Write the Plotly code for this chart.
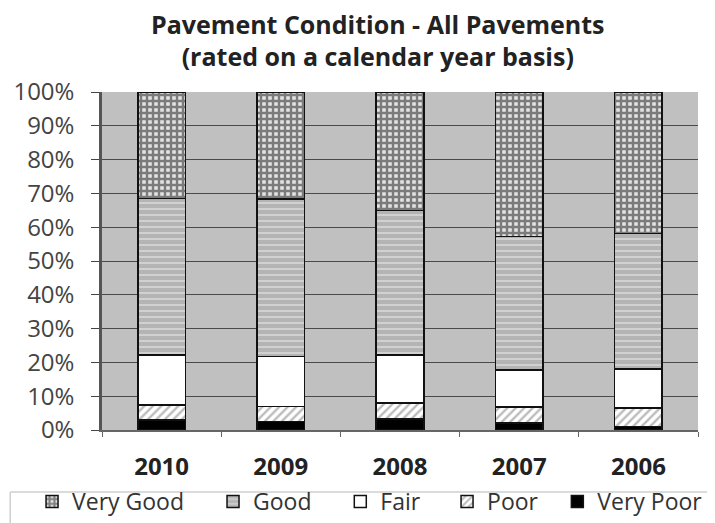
import plotly.graph_objects as go

years = ["2010", "2009", "2008", "2007", "2006"]
very_poor = [3.0, 2.5, 3.2, 2.0, 1.0]
poor = [4.4, 4.5, 4.8, 4.8, 5.5]
fair = [14.8, 14.7, 14.2, 11.0, 11.5]
good = [46.3, 46.6, 42.8, 39.4, 40.2]
very_good = [31.5, 31.7, 35.0, 42.8, 41.8]

font = "Open Sans"
fig = go.Figure()
line = dict(color="#111", width=1.5)
fig.add_bar(x=years, y=very_poor, name="Very Poor", legend="legend5", showlegend=True,
            marker=dict(color="black", line=line))
fig.add_bar(x=years, y=poor, name="Poor", legend="legend4", showlegend=True,
            marker=dict(color="white", line=line,
                        pattern=dict(shape="/", fgcolor="#777", bgcolor="white", size=6, solidity=0.4)))
fig.add_bar(x=years, y=fair, name="Fair", legend="legend3", showlegend=True,
            marker=dict(color="white", line=line))
fig.add_bar(x=years, y=good, name="Good", legend="legend2", showlegend=True,
            marker=dict(color="#bcbcbc", line=line,
                        pattern=dict(shape="-", fgcolor="#f4f4f4", bgcolor="#b4b4b4", size=6, solidity=0.3)))
fig.add_bar(x=years, y=very_good, name="Very Good", legend="legend", showlegend=True,
            marker=dict(color="#555", line=line,
                        pattern=dict(shape="+", fgcolor="#111", bgcolor="#e4e4e4", size=6, solidity=0.65)))

legend_style = dict(orientation="h", xref="container", xanchor="left",
                    yref="container", y=-0.014, yanchor="bottom",
                    font=dict(family=font, size=23, color="#333"),
                    itemwidth=30, bgcolor="rgba(0,0,0,0)")

# page body has an 8px default margin, so the figure is sized 707x515
fig.update_layout(
    barmode="stack",
    bargap=0.6,
    showlegend=True,
    width=707, height=515,
    margin=dict(l=94, r=17, t=84, b=93, autoexpand=False),
    paper_bgcolor="white",
    plot_bgcolor="#c0c0c0",
    title=dict(text="<b>Pavement Condition - All Pavements<br>(rated on a calendar year basis)</b>",
               x=0.523, xanchor="center", yref="container", y=0.95, yanchor="top",
               font=dict(family=font, size=25, color="#222")),
    legend=dict(legend_style, x=0.034),
    legend2=dict(legend_style, x=0.290),
    legend3=dict(legend_style, x=0.470),
    legend4=dict(legend_style, x=0.621),
    legend5=dict(legend_style, x=0.777),
    font=dict(family=font),
    shapes=[
        dict(type="line", xref="paper", yref="paper", x0=-0.154, x1=1.05, y0=-0.1834, y1=-0.1834,
             line=dict(color="#cfcfcf", width=1.5)),
        dict(type="line", xref="paper", yref="paper", x0=-0.154, x1=-0.154, y0=-0.1834, y1=-0.3,
             line=dict(color="#cfcfcf", width=1.5)),
    ],
)
fig.update_yaxes(range=[0, 100], tickvals=list(range(0, 101, 10)),
                 ticktext=[f"{v}%" for v in range(0, 101, 10)],
                 showgrid=True, gridcolor="#4a4a4a", gridwidth=1.2,
                 showline=True, linecolor="#555", linewidth=2.5,
                 ticks="outside", ticklen=8, tickcolor="#444", tickwidth=1.2,
                 ticklabelstandoff=12, automargin=False,
                 tickfont=dict(family=font, size=24, color="#444"), zeroline=False)
fig.update_xaxes(showline=True, linecolor="#666", linewidth=1.5,
                 tickfont=dict(family=font, size=24, color="#222"),
                 tickprefix="<b>", ticksuffix="</b>",
                 ticks="outside", tickson="boundaries", ticklen=5, tickcolor="#666",
                 ticklabelstandoff=14, automargin=False)
fig.write_html("out.html")
